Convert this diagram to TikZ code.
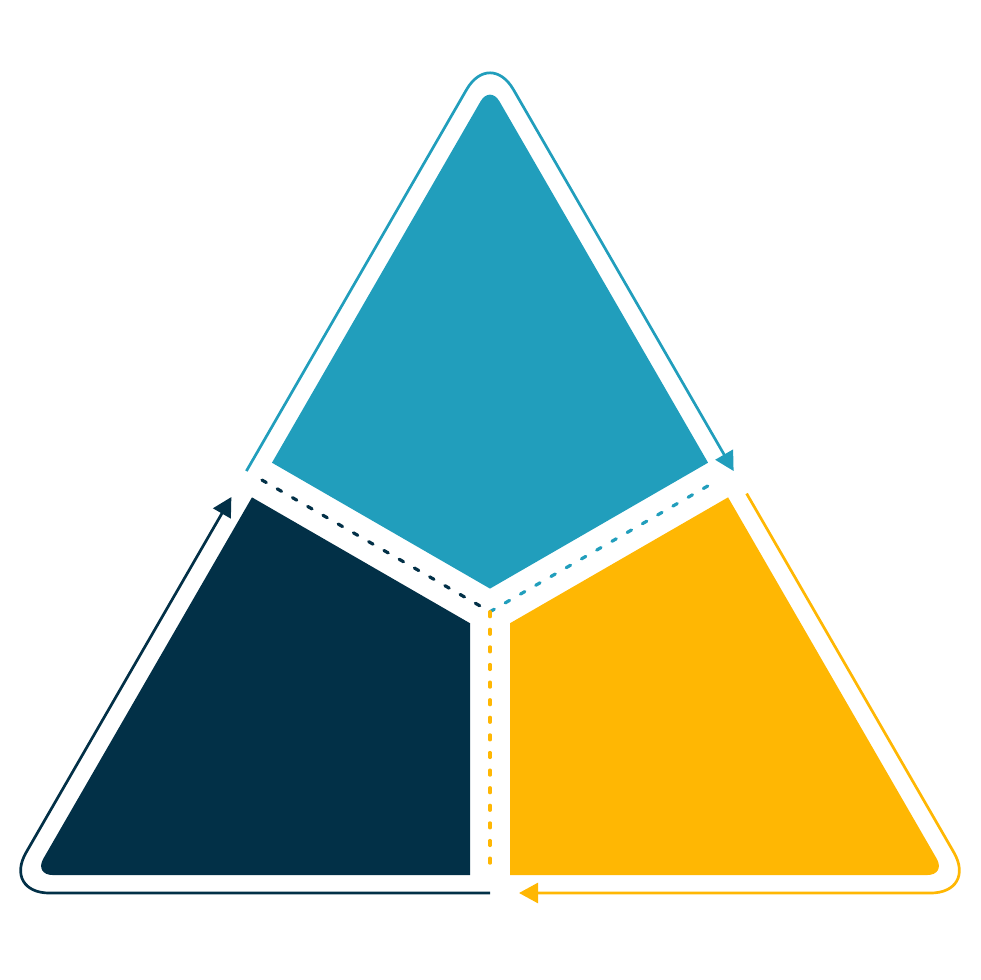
\documentclass[tikz,border=0pt]{standalone}
\usepackage{xcolor}
\usepackage{tikz}
\usetikzlibrary{calc,arrows.meta}

\definecolor{skyblue}{HTML}{219EBC}
\definecolor{deepnavy}{HTML}{023047}
\definecolor{amber}{HTML}{FFB703}

\begin{document}
\begin{tikzpicture}[x=1pt, y=1pt]

\tikzstyle{outline}=[line width=2.7pt, rounded corners=47pt, -{Triangle[length=19pt, width=20pt]}]
\tikzstyle{dashline}=[line width=3.2pt, line cap=round, dash pattern=on 5pt off 12.6pt]
\tikzstyle{piece}=[rounded corners=19pt]

\useasboundingbox (0,0) rectangle (980,980);

% corners %
\coordinate (c) at (490,368.3);
\foreach \n/\a in {top/90, left/210, right/330}{
  \coordinate (o\n) at ($(c)+(\a:562.7)$);
  \coordinate (f\n) at ($(c)+(\a:526.7)$);
}
\foreach \n/\a in {ml/150, mr/30, mb/270}{
  \coordinate (o\n) at ($(c)+(\a:281.3)$);
  \coordinate (f\n) at ($(c)+(\a:263.3)$);
}
\coordinate (kb) at ($(c)+(90:23.1)$);
\coordinate (kn) at ($(c)+(210:23.1)$);
\coordinate (ky) at ($(c)+(330:23.1)$);

% regions %
\begin{scope}
  \clip (kb) -- ($(kb)+(30:1500)$) -- ($(kb)+(90:2000)$) -- ($(kb)+(150:1500)$) -- cycle;
  \fill[skyblue, piece] (fml) -- (fleft) -- (fright) -- (ftop) -- cycle;
\end{scope}
\begin{scope}
  \clip (kn) -- ($(kn)+(150:1500)$) -- ($(kn)+(210:2000)$) -- ($(kn)+(270:1500)$) -- cycle;
  \fill[deepnavy, piece] (fml) -- (fleft) -- (fright) -- (ftop) -- cycle;
\end{scope}
\begin{scope}
  \clip (ky) -- ($(ky)+(270:1500)$) -- ($(ky)+(330:2000)$) -- ($(ky)+(30:1500)$) -- cycle;
  \fill[amber, piece] (fml) -- (fleft) -- (fright) -- (ftop) -- cycle;
\end{scope}

% dashes %
\draw[dashline, deepnavy] (fml) -- (c);
\draw[dashline, skyblue] (c) -- (fmr);
\draw[dashline, amber] (c) -- (fmb);

% outline %
\draw[outline, skyblue] (oml) -- (otop) -- (omr);
\draw[outline, amber] ($(omr)!26pt!(oright)$) -- (oright) -- ($(omb)!29pt!(oright)$);
\draw[outline, deepnavy] (omb) -- (oleft) -- ($(oml)!30pt!(oleft)$);

\end{tikzpicture}
\end{document}
